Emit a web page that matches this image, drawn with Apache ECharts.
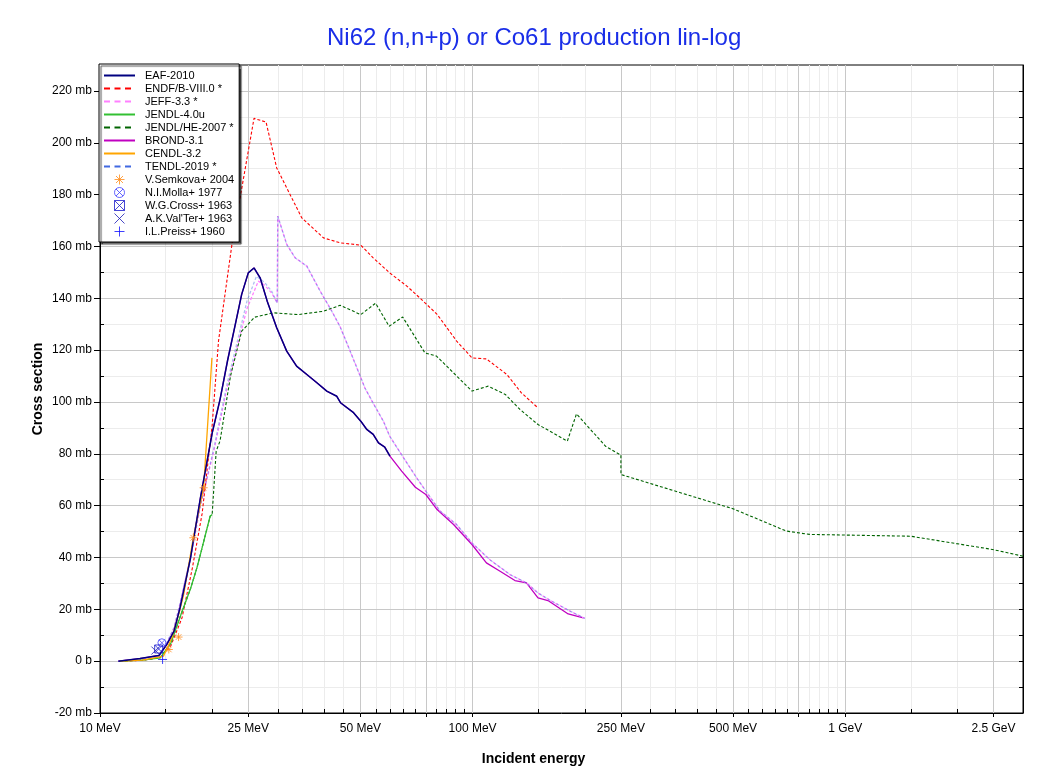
<!DOCTYPE html>
<html>
<head>
<meta charset="utf-8">
<script src="https://cdn.jsdelivr.net/npm/echarts@6/dist/echarts.min.js"></script>
<style>
  html, body { margin: 0; padding: 0; background: #fff; }
  #chart { width: 1049px; height: 774px; }
</style>
</head>
<body>
<div id="chart"></div>
<script>
// ---- data: [incident energy (MeV), cross section (mb)] ----
const eaf2010 = [[11.2,0],[12.8,1.0],[14.4,2.2],[15.1,6.4],[15.8,11.6],[16.4,20.6],[17.5,39.9],[18.6,63],[20,88],[21,101],[22,116],[23,129],[24,141.5],[25,149.8],[25.9,151.7],[26.9,147.9],[28.1,138.9],[29.8,128.6],[31.7,119.6],[33.7,113.8],[35.9,110.6],[38.2,107.4],[40.6,104.2],[43.2,102.2],[44.2,99.7],[47.8,96],[50.1,92.6],[52.0,89.4],[54.1,87.5],[55.9,84.2],[58.1,82.6],[60,79.1]];
const brond31 = [[11.2,0],[12.8,1.0],[14.4,2.2],[15.1,6.4],[15.8,11.6],[16.4,20.6],[17.5,39.9],[18.6,63],[20,88],[21,101],[22,116],[23,129],[24,141.5],[25,149.8],[25.9,151.7],[26.9,147.9],[28.1,138.9],[29.8,128.6],[31.7,119.6],[33.7,113.8],[35.9,110.6],[38.2,107.4],[40.6,104.2],[43.2,102.2],[44.2,99.7],[47.8,96],[50.1,92.6],[52.0,89.4],[54.1,87.5],[55.9,84.2],[58.1,82.6],[60,79.1],[64.5,73.3],[70.2,67.1],[74.9,64.3],[80.3,58.5],[88.9,52.7],[99.6,45.0],[108.9,37.9],[118.5,34.7],[129.9,31.1],[139.5,30.2],[149.8,24.4],[159.3,23.4],[180.5,18.2],[198.2,16.7]];
const endfb80 = [[11.3,0],[13,0.3],[14.5,1.5],[15.5,6],[16.6,16.7],[17.7,36],[18.8,57],[20,91],[20.8,123.5],[22.6,160.8],[25.9,209.4],[27.9,208],[29.8,190.3],[34.8,171],[39.8,163.3],[44.1,161.4],[50.1,160.5],[54.1,155.6],[59.9,149.8],[66.6,144.7],[72.1,140.2],[80.3,133.8],[90.6,123.5],[99.6,117],[108.9,116.6],[123.6,110.6],[135.2,103.5],[149.8,97.7]];
const jeff33 = [[11.2,0],[12.8,0.6],[14.4,2.0],[15.1,6.8],[15.8,12.8],[16.3,20.6],[17.5,40],[18.6,60],[20.2,81],[21.9,105],[23.6,124],[24.8,136],[26.6,146.6],[27.7,145],[28.9,142],[29.9,138.2],[30.0,171.7],[31.7,160.8],[33.4,155.6],[35.9,152.4],[39.0,142.7],[41.9,135],[44.1,129],[46.5,121],[48.9,113.2],[51.4,105.4],[54.1,99.5],[57.6,92.6],[59.9,86.8],[65.3,78.4],[70.8,70.7],[76,64.3],[81.8,57.9],[90.6,52.7],[99.6,45.6],[111.1,39.2],[126,33.4],[139.5,30.2],[149.8,26.3],[161.7,23.4],[182.6,19.3],[200,16.5]];
const tendl2019 = [[11.2,0],[12.8,0.7],[14.4,2.3],[15.1,7],[15.8,13],[16.3,20.6],[17.5,40],[18.6,60],[20.2,82],[21.9,106.7],[23.6,126],[24.8,138.9],[26.3,148.5],[27.7,146],[28.9,142.7],[29.9,138.2],[30.0,171.7],[31.7,160.8],[33.4,155.6],[35.9,152.4],[39.0,142.7],[41.9,135],[44.1,129],[46.5,121],[48.9,113.2],[51.4,105.4],[54.1,99.5],[57.6,92.6],[59.9,86.8],[65.3,78.4],[70.8,70.7],[76,64.3],[81.8,57.9],[90.6,52.7],[99.6,45.6],[111.1,39.2],[126,33.4],[139.5,30.2],[149.8,26.3],[161.7,23.4],[182.6,19.3],[200,16.5]];
const jendl40u = [[11.3,0],[13,0.4],[14.5,1.3],[15.5,7],[16.4,17],[17.5,28],[18.2,36],[18.6,41.2],[19.75,55.9],[20,56.6]];
const jendlhe2007 = [[11.3,0],[13,0.4],[14.5,1.3],[15.5,7],[16.4,17],[17.5,28],[18.2,36],[18.6,41.2],[19.75,55.9],[20,56.6],[20.5,81],[21,85],[22.4,110],[24,127.3],[26,132.7],[29.2,134.4],[34,133.7],[39.8,135],[44.1,137.3],[50.1,133.7],[54.9,138.1],[59.7,129.2],[64.9,132.8],[74.5,118.9],[80,117.7],[99.6,104.2],[110.1,106.1],[122.4,102.9],[134,97.1],[149.8,91.3],[179.6,84.9],[190,95.4],[227.5,82.9],[250,79.5],[250.1,72],[499.7,58.8],[695,50.2],[801,48.9],[1500,48.2],[2483,43.1],[3000,40.5]];
const cendl32 = [[11.3,0],[13,0.4],[14.8,1.9],[15.6,9],[16.35,19.3],[16.77,25.7],[17.8,47.6],[18.97,67],[19.97,117]];
const semkova2004 = [[15.3,4.5],[16.25,9.3],[17.8,47.6],[18.97,66.9]];
const molla1977 = [[14.66,7.1]];
const cross1963 = [[14.37,4.7]];
const valter1963 = [[14.08,4.1]];
const preiss1960 = [[14.72,0.65]];

// ---- axes ----
const xLabelValues = [10, 25, 50, 100, 250, 500, 1000, 2500];
const xTickLabels = ['10 MeV', '25 MeV', '50 MeV', '100 MeV', '250 MeV', '500 MeV', '1 GeV', '2.5 GeV'];
const xMajorTicks = [10, 25, 50, 75, 100, 250, 500, 750, 1000, 2500];
const xMinorTicks = [15, 20, 30, 35, 40, 45, 55, 60, 65, 70, 80, 85, 90, 95, 150, 200, 300, 350, 400, 450, 550, 600, 650, 700, 800, 850, 900, 950, 1500, 2000];
const xMin = 10, xMax = 3000;
const yMajorTicks = [-20, 0, 20, 40, 60, 80, 100, 120, 140, 160, 180, 200, 220];
const yAllTicks = [-20, -10, 0, 10, 20, 30, 40, 50, 60, 70, 80, 90, 100, 110, 120, 130, 140, 150, 160, 170, 180, 190, 200, 210, 220];
const yMin = -20, yMax = 230;

const FONT = '"Liberation Sans", Arial, Helvetica, sans-serif';
const lg = v => Math.log10(v);
const toXY = arr => arr.map(p => [lg(p[0]), p[1]]);

function xLabelFmt(v) {
  let best = 0, bd = Infinity;
  xLabelValues.forEach((e, i) => { const d = Math.abs(lg(e) - v); if (d < bd) { bd = d; best = i; } });
  return xTickLabels[best];
}
function yLabelFmt(v) { return v === 0 ? '0 b' : v + ' mb'; }

const DASH = [3, 2];
function lineSeries(name, data, color, width, dashed, z, opacity) {
  return {
    name, type: 'line', data: toXY(data), symbol: 'none', z: z,
    lineStyle: { color, width, type: dashed ? DASH : 'solid', opacity: opacity == null ? 1 : opacity },
    itemStyle: { color },
    emphasis: { disabled: true }, silent: true
  };
}
const P_AST = 'path://M-10,0 L10,0 M0,-10 L0,10 M-7,-7 L7,7 M-7,7 L7,-7';
const P_CIRX = 'path://M10,0 A10,10 0 1,1 -10,0 A10,10 0 1,1 10,0 Z M-7,-7 L7,7 M-7,7 L7,-7';
const P_SQX = 'path://M-10,-10 L10,-10 L10,10 L-10,10 Z M-10,-10 L10,10 M-10,10 L10,-10';
const P_X = 'path://M-10,-10 L10,10 M-10,10 L10,-10';
const P_PLUS = 'path://M-10,0 L10,0 M0,-10 L0,10';
function scatterSeries(name, data, color, symbol, size) {
  return {
    name, type: 'scatter', data: toXY(data), symbol, symbolSize: size, z: 5,
    itemStyle: { color: 'transparent', borderColor: color, borderWidth: 1 },
    emphasis: { disabled: true }, silent: true
  };
}

const C = {
  eaf: '#000080', endf: '#ff0000', jeff: '#ff80ff', jendl4: '#33c033', jendlhe: '#006400',
  brond: '#c000c0', cendl: '#ffa500', tendl: '#4169e1',
  semkova: '#ff8c1a', molla: '#4040ff', cross: '#1a1acc', valter: '#1a1ab8', preiss: '#1010ff'
};

const series = [
  lineSeries('BROND-3.1', brond31, C.brond, 1.3, false, 2),
  lineSeries('EAF-2010', eaf2010, C.eaf, 1.5, false, 3),
  lineSeries('JEFF-3.3 *', jeff33, C.jeff, 1.3, true, 2),
  lineSeries('TENDL-2019 *', tendl2019, C.tendl, 1.3, true, 2, 0.42),
  lineSeries('ENDF/B-VIII.0 *', endfb80, C.endf, 1.1, true, 2),
  lineSeries('JENDL/HE-2007 *', jendlhe2007, C.jendlhe, 1.1, true, 2),
  lineSeries('JENDL-4.0u', jendl40u, C.jendl4, 1.3, false, 2),
  lineSeries('CENDL-3.2', cendl32, C.cendl, 1.3, false, 2),
  scatterSeries('V.Semkova+ 2004', semkova2004, C.semkova, P_AST, 8),
  scatterSeries('N.I.Molla+ 1977', molla1977, C.molla, P_CIRX, 8),
  scatterSeries('W.G.Cross+ 1963', cross1963, C.cross, P_SQX, 8),
  scatterSeries("A.K.Val'Ter+ 1963", valter1963, C.valter, P_X, 8),
  scatterSeries('I.L.Preiss+ 1960', preiss1960, C.preiss, P_PLUS, 9)
];

const legendOrder = [
  ['EAF-2010', 'solid'], ['ENDF/B-VIII.0 *', 'dash'], ['JEFF-3.3 *', 'dash'], ['JENDL-4.0u', 'solid'],
  ['JENDL/HE-2007 *', 'dash'], ['BROND-3.1', 'solid'], ['CENDL-3.2', 'solid'], ['TENDL-2019 *', 'dash'],
  ['V.Semkova+ 2004', 'mark'], ['N.I.Molla+ 1977', 'mark'], ['W.G.Cross+ 1963', 'mark'],
  ["A.K.Val'Ter+ 1963", 'mark'], ['I.L.Preiss+ 1960', 'mark']
];
const legendData = legendOrder.map(([name, kind]) => {
  if (kind === 'mark') return { name, itemStyle: { borderWidth: 1 } };
  return {
    name,
    itemStyle: { opacity: 0 },
    lineStyle: { width: 2, type: kind === 'dash' ? [6, 4.5] : 'solid', opacity: 1 }
  };
});

const axisBlack = { show: true, onZero: false, lineStyle: { color: '#000', width: 1 } };

const option = {
  animation: false,
  backgroundColor: '#fff',
  textStyle: { fontFamily: FONT },
  title: {
    text: 'Ni62 (n,n+p) or Co61 production lin-log',
    left: 322, top: 21,
    textStyle: { color: '#1a2ee8', fontSize: 24, fontWeight: 'normal', fontFamily: FONT }
  },
  grid: { left: 100, right: 26, top: 65, bottom: 61, show: true, borderColor: '#000', borderWidth: 1, backgroundColor: 'transparent' },
  legend: {
    orient: 'vertical', left: 99, top: 64,
    padding: [5, 5, 4, 4],
    itemWidth: 31, itemHeight: 10, itemGap: 0,
    backgroundColor: '#fff', borderColor: '#000', borderWidth: 1, borderRadius: 0,
    shadowColor: 'rgba(0,0,0,0.7)', shadowOffsetX: 2, shadowOffsetY: 2, shadowBlur: 1,
    textStyle: { fontSize: 11, color: '#000', fontFamily: FONT, lineHeight: 13, padding: [0, 0, 0, 5] },
    selectedMode: false,
    data: legendData,
    z: 10
  },
  xAxis: [
    {
      type: 'value', min: lg(xMin), max: lg(xMax), position: 'bottom', z: 1,
      axisLine: axisBlack,
      axisTick: { show: true, inside: false, length: 4, customValues: xMajorTicks.map(lg), lineStyle: { color: '#000' } },
      axisLabel: { show: true, customValues: xLabelValues.map(lg), formatter: xLabelFmt, margin: 10, fontSize: 12, color: '#000', fontFamily: FONT },
      splitLine: { show: true, lineStyle: { color: '#c8c8c8', width: 1 } },
      name: 'Incident energy', nameLocation: 'middle', nameGap: 39,
      nameTextStyle: { fontSize: 14, fontWeight: 'bold', color: '#000', fontFamily: FONT, padding: [0, 56, 0, 0] }
    },
    {
      type: 'value', min: lg(xMin), max: lg(xMax), position: 'bottom', z: 0,
      axisLine: { show: false, onZero: false },
      axisTick: { show: true, inside: true, length: 4, customValues: xMajorTicks.concat(xMinorTicks).map(lg), lineStyle: { color: '#000' } },
      axisLabel: { show: false },
      splitLine: { show: true, lineStyle: { color: '#ececec', width: 1 } }
    }
  ],
  yAxis: [
    {
      type: 'value', min: yMin, max: yMax, position: 'left', z: 1,
      axisLine: axisBlack,
      axisTick: { show: true, inside: false, length: 6, customValues: yMajorTicks, lineStyle: { color: '#000' } },
      axisLabel: { show: true, customValues: yMajorTicks, formatter: yLabelFmt, margin: 8, fontSize: 12, color: '#000', fontFamily: FONT },
      splitLine: { show: true, lineStyle: { color: '#c8c8c8', width: 1 } },
      name: 'Cross section', nameLocation: 'middle', nameGap: 55, nameRotate: 90, nameMoveOverlap: false,
      nameTextStyle: { fontSize: 14, fontWeight: 'bold', color: '#000', fontFamily: FONT }
    },
    {
      type: 'value', min: yMin, max: yMax, position: 'left', z: 0,
      axisLine: { show: false, onZero: false },
      axisTick: { show: true, inside: true, length: 4, customValues: yAllTicks, lineStyle: { color: '#000' } },
      axisLabel: { show: false },
      splitLine: { show: true, lineStyle: { color: '#ececec', width: 1 } }
    },
    {
      type: 'value', min: yMin, max: yMax, position: 'right', z: 1,
      axisLine: axisBlack,
      axisTick: { show: true, inside: true, length: 4, customValues: yAllTicks, lineStyle: { color: '#000' } },
      axisLabel: { show: false },
      splitLine: { show: false }
    }
  ],
  series
};

const chart = echarts.init(document.getElementById('chart'), null, { renderer: 'canvas' });
chart.setOption(option);
</script>
</body>
</html>
